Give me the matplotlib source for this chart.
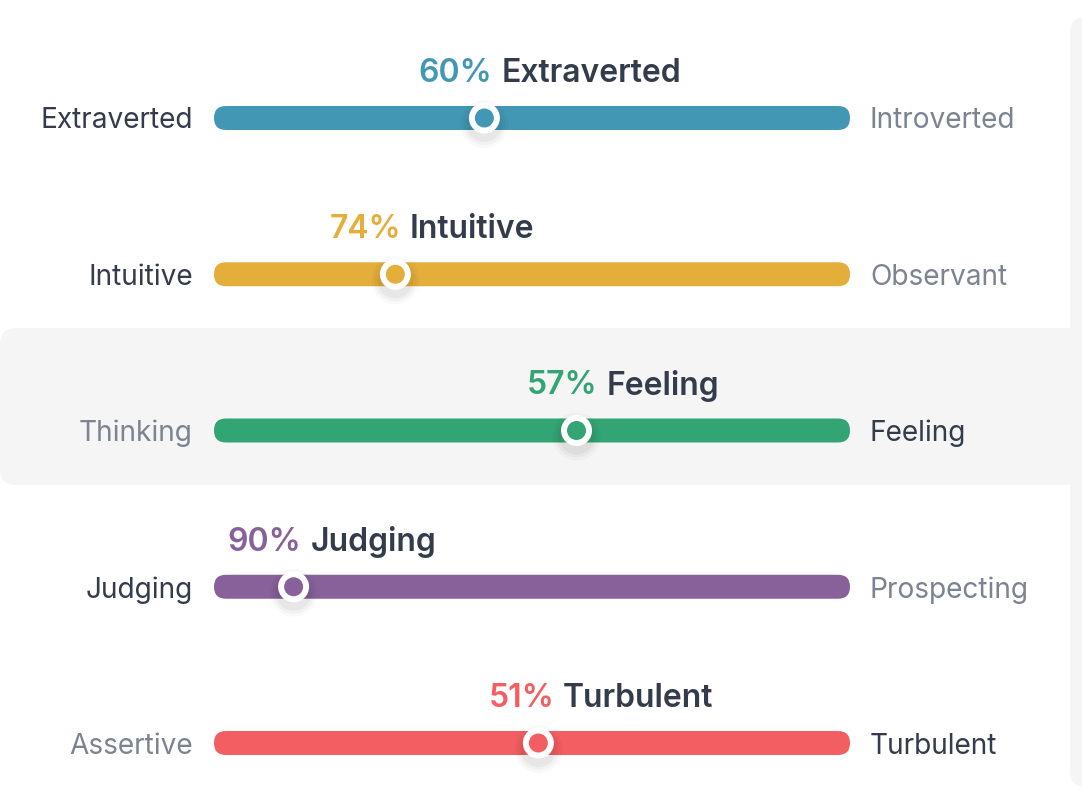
import matplotlib.pyplot as plt
from matplotlib.patches import FancyBboxPatch, Circle

# Personality trait data
left_names = ['Extraverted', 'Intuitive', 'Thinking', 'Judging', 'Assertive']
right_names = ['Introverted', 'Observant', 'Feeling', 'Prospecting', 'Turbulent']
percents = [60, 74, 57, 90, 51]
dominant = ['left', 'left', 'right', 'left', 'right']
colors = ['#4298B4', '#E4AE3A', '#33A474', '#88619A', '#F25E62']

dark = '#343C4B'
muted = '#7D8491'
panel = '#F5F5F5'

W, H = 1082, 790
fig = plt.figure(figsize=(W / 100, H / 100), dpi=100)
ax = fig.add_axes([0, 0, 1, 1])
ax.set_xlim(0, W)
ax.set_ylim(H, 0)
ax.axis('off')
plt.rcParams['font.family'] = ['Inter', 'DejaVu Sans']

# background panels
ax.add_patch(FancyBboxPatch((1070, 17), 60, 770, boxstyle='round,pad=0,rounding_size=16',
                            fc=panel, ec='none', zorder=0))
ax.add_patch(FancyBboxPatch((0, 328), 1070, 157, boxstyle='round,pad=0,rounding_size=16',
                            fc=panel, ec='none', zorder=0))
ax.add_patch(plt.Rectangle((1050, 328), 40, 157, fc=panel, ec='none', zorder=0))

bar_x0, bar_x1 = 214, 850
bar_h = 24
row_gap = 156.25
fig.canvas.draw()
renderer = fig.canvas.get_renderer()

for i in range(len(percents)):
    yc = 118 + i * row_gap
    c = colors[i]
    ax.add_patch(FancyBboxPatch((bar_x0, yc - bar_h / 2), bar_x1 - bar_x0, bar_h,
                                boxstyle='round,pad=0,rounding_size=12', fc=c, ec='none', zorder=2))
    p = percents[i] / 100
    frac = 1 - p if dominant[i] == 'left' else p
    pos = bar_x0 + frac * (bar_x1 - bar_x0)
    mx = pos + 16 if dominant[i] == 'left' else pos

    # soft shadow under the marker
    for r, a in [(24, 0.025), (21, 0.03), (18, 0.04)]:
        ax.add_patch(Circle((mx, yc + 6), r, fc='black', ec='none', alpha=a, zorder=3))
    ax.add_patch(Circle((mx, yc), 15.5, fc='white', ec='none', zorder=4))
    ax.add_patch(Circle((mx, yc), 9.5, fc=c, ec='none', zorder=5))

    lc = dark if dominant[i] == 'left' else muted
    rc = dark if dominant[i] == 'right' else muted
    ax.text(193, yc, left_names[i], ha='right', va='center_baseline', fontsize=20.2, color=lc, zorder=6)
    ax.text(870, yc, right_names[i], ha='left', va='center_baseline', fontsize=20.2, color=rc, zorder=6)

    name = left_names[i] if dominant[i] == 'left' else right_names[i]
    ty = yc - 48
    t1 = ax.text(pos - 50, ty, f'{percents[i]}%', ha='left', va='center_baseline',
                 fontsize=23, fontweight='semibold', color=c, zorder=6)
    bb = t1.get_window_extent(renderer=renderer)
    x_end = ax.transData.inverted().transform((bb.x1, 0))[0]
    ax.text(x_end + 9, ty, name, ha='left', va='center_baseline',
            fontsize=23, fontweight='semibold', color=dark, zorder=6)

fig.savefig('out.png', dpi=100, facecolor='white')
